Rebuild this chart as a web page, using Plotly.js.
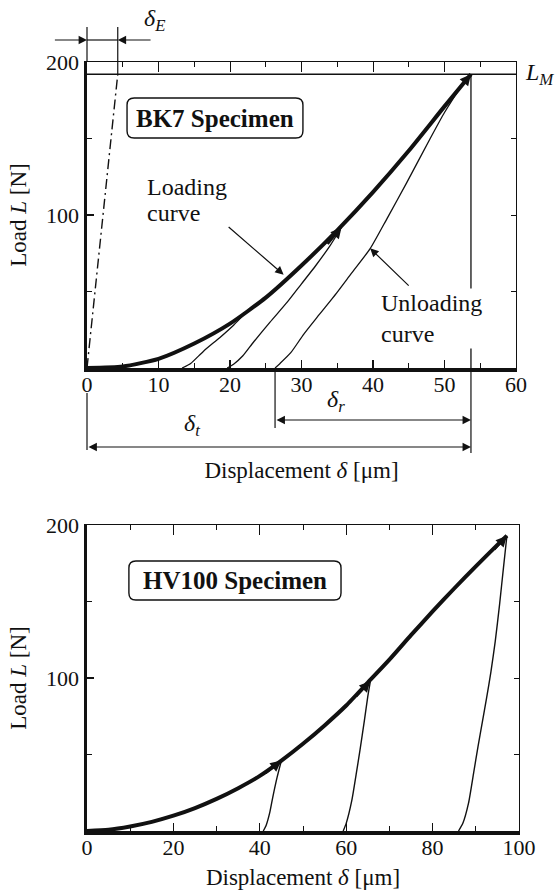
<!DOCTYPE html>
<html><head><meta charset="utf-8">
<script src="https://cdn.plot.ly/plotly-3.0.1.min.js"></script>
<style>html,body{margin:0;padding:0;background:#fff}#chart{width:556px;height:894px}</style>
</head><body><div id="chart"></div>
<script>
// ---------- BK7 specimen (upper panel) ----------
const bk7LoadX = [0, 5, 10, 15, 20, 25, 30, 35, 40, 45, 50, 53.7];
const bk7LoadY = [0, 1, 6, 16, 29, 46, 67, 90, 115, 142, 171, 192];
const bk7Unload1X = [13.3, 14.5, 16.3, 18.6, 20.5, 22.2];
const bk7Unload1Y = [0, 3, 11, 20, 28, 36];
const bk7Unload2X = [19.6, 20.5, 21.8, 23.3, 25.6, 28, 30, 32, 34, 35.6];
const bk7Unload2Y = [0, 2.5, 8, 17, 30, 43, 55, 67, 80, 92];
const bk7Unload3X = [26.3, 27, 28.5, 30.3, 32.5, 34.9, 37, 39.6, 42, 44.7, 48, 50, 52.2, 53.7];
const bk7Unload3Y = [0, 3, 10, 22, 35, 49, 62, 78, 98, 121, 150, 167, 183, 192];
const bk7ElasticX = [0, 4.3];
const bk7ElasticY = [0, 192];
const bk7MaxLoad = 192;          // L_M
const bk7TotalDisp = 53.7;       // delta_t
const bk7ResidualDisp = 26.3;    // start of delta_r

// ---------- HV100 specimen (lower panel) ----------
const hvLoadX = [0, 5, 10, 15, 20, 25, 30, 35, 40, 45, 50, 55, 60, 65, 70, 75, 80, 85, 90, 95, 97.2];
const hvLoadY = [0, 0.8, 3, 6, 10, 15, 21, 28, 36, 46, 57, 69, 82, 97, 112, 128, 143.5, 158.5, 173, 187, 193];
const hvUnload1X = [40.8, 41.5, 42.3, 43, 44, 45];
const hvUnload1Y = [0, 4, 12, 22, 35, 46];
const hvUnload2X = [59.3, 60, 61.3, 62.3, 63.2, 64.2, 65, 65.6];
const hvUnload2Y = [0, 5, 20, 37, 53, 72, 88, 98];
const hvUnload3X = [86, 87, 88.3, 89.5, 90.5, 91.5, 92.5, 93.5, 94.5, 95.5, 96.4, 97.2];
const hvUnload3Y = [0, 5, 18, 38, 55, 71, 87, 104, 124, 148, 172, 193];

const yTickVals = [100, 200];
const yTickText = ['100', '200'];

// ---------- styling ----------
const FONT = 'Liberation Serif, Times New Roman, serif';
const INK = '#111';
const H = 894, MT = 62, MB = 63, PH = H - MT - MB;
const py = p => (H - MB - p) / PH;   // page pixel row -> paper fraction
const TOP_DOMAIN = [(831 - 368) / PH, 1];
const BOT_DOMAIN = [0, (831 - 525) / PH];

function curve(x, y, w, xa, ya, dash) {
  return {x, y, xaxis: xa, yaxis: ya, type: 'scatter', mode: 'lines',
    line: {color: INK, width: w, dash: dash || 'solid', shape: 'spline', smoothing: 0.6},
    hoverinfo: 'skip', showlegend: false};
}
const dummy = (xa, ya) => ({x: [null], y: [null], xaxis: xa, yaxis: ya, type: 'scatter', mode: 'lines', hoverinfo: 'skip', showlegend: false});

const traces = [
  curve(bk7ElasticX, bk7ElasticY, 1.4, 'x', 'y', '10px,4px,2px,4px'),
  curve(bk7Unload1X, bk7Unload1Y, 1.3, 'x', 'y'),
  curve(bk7Unload2X, bk7Unload2Y, 1.3, 'x', 'y'),
  curve(bk7Unload3X, bk7Unload3Y, 1.3, 'x', 'y'),
  curve(bk7LoadX, bk7LoadY, 4, 'x', 'y'),
  curve(hvUnload1X, hvUnload1Y, 1.4, 'x3', 'y3'),
  curve(hvUnload2X, hvUnload2Y, 1.4, 'x3', 'y3'),
  curve(hvUnload3X, hvUnload3Y, 1.4, 'x3', 'y3'),
  curve(hvLoadX, hvLoadY, 4, 'x3', 'y3'),
  dummy('x2', 'y2'), dummy('x4', 'y4')
];

const tickFont = {family: FONT, size: 22, color: INK};
const titleFont = {family: FONT, size: 23, color: INK};
function baseX(range, dtick, minor, domain, anchor, standoff) {
  return {domain, range, anchor, autorange: false, showgrid: false, zeroline: false,
    showline: true, linewidth: 3.5, linecolor: INK, ticks: 'inside', ticklen: 8, tickwidth: 1.2, tickcolor: INK,
    tickmode: 'linear', tick0: 0, dtick, tickfont: tickFont, ticklabelstandoff: -6,
    minor: {ticks: 'inside', ticklen: 5, tickwidth: 1, tickcolor: INK, dtick: minor, tick0: 0, showgrid: false},
    title: {text: 'Displacement <i>δ</i> [μm]', font: titleFont, standoff}};
}
function baseY(domain, anchor) {
  return {domain, range: [0, 200], anchor, autorange: false, showgrid: false, zeroline: false,
    showline: true, linewidth: 3.5, linecolor: INK, ticks: 'inside', ticklen: 7, tickwidth: 1.2, tickcolor: INK,
    tickmode: 'array', tickvals: yTickVals, ticktext: yTickText, tickfont: tickFont,
    minor: {ticks: 'inside', ticklen: 5, tickwidth: 1, tickcolor: INK, dtick: 50, tick0: 0, showgrid: false},
    title: {text: 'Load <i>L</i> [N]', font: titleFont, standoff: 14}};
}
function mirrorX(range, dtick, minor, over, anchor) {
  return {overlaying: over, side: 'top', anchor, range, autorange: false, showgrid: false, zeroline: false,
    showline: true, linewidth: 1.2, linecolor: INK, ticks: 'inside', ticklen: 10, tickwidth: 1, tickcolor: INK,
    tickmode: 'linear', tick0: 0, dtick, showticklabels: false,
    minor: {ticks: 'inside', ticklen: 5, tickwidth: 1, tickcolor: INK, dtick: minor, tick0: 0, showgrid: false}};
}
function mirrorY(over, anchor) {
  return {overlaying: over, side: 'right', anchor, range: [0, 200], autorange: false, showgrid: false, zeroline: false,
    showline: true, linewidth: 1.2, linecolor: INK, ticks: 'inside', ticklen: 5, tickwidth: 1, tickcolor: INK,
    tickmode: 'linear', tick0: 0, dtick: 50, showticklabels: false};
}

function roundBox(x0, x1, y0, y1, rx, ry, xref, yref) {
  const p = `M${x0 + rx},${y0} L${x1 - rx},${y0} Q${x1},${y0} ${x1},${y0 + ry} L${x1},${y1 - ry} Q${x1},${y1} ${x1 - rx},${y1} ` +
            `L${x0 + rx},${y1} Q${x0},${y1} ${x0},${y1 - ry} L${x0},${y0 + ry} Q${x0},${y0} ${x0 + rx},${y0} Z`;
  return {type: 'path', path: p, xref, yref, line: {color: INK, width: 1.4}, fillcolor: 'rgba(0,0,0,0)'};
}
const seg = (o) => Object.assign({type: 'line', line: {color: INK, width: 1.2}}, o);

const shapes = [
  seg({xref: 'x', yref: 'y', x0: 0, x1: 60, y0: bk7MaxLoad, y1: bk7MaxLoad, line: {color: INK, width: 1.3}}),
  seg({xref: 'x', yref: 'y', x0: bk7TotalDisp, x1: bk7TotalDisp, y0: 0, y1: bk7MaxLoad, line: {color: INK, width: 1.3}}),
  roundBox(5.6, 30.2, 150.3, 176.5, 1.0, 4.6, 'x', 'y'),
  roundBox(9.7, 58.8, 151, 176.5, 1.6, 4.6, 'x3', 'y3'),
  // delta_E extension lines above the upper panel
  seg({xref: 'x', yref: 'paper', x0: 0, x1: bk7ElasticX[1], y0: py(40), y1: py(40)}),
  seg({xref: 'paper', yref: 'paper', x0: 0, x1: 0, y0: py(27), y1: TOP_DOMAIN[1]}),
  seg({xref: 'x', yref: 'paper', x0: bk7ElasticX[1], x1: bk7ElasticX[1], y0: py(27), y1: TOP_DOMAIN[1]}),
  seg({xref: 'x', yref: 'y', x0: bk7ElasticX[1], x1: bk7ElasticX[1], y0: bk7MaxLoad, y1: 200}),
  // delta_t / delta_r extension lines below the upper panel
  seg({xref: 'paper', yref: 'paper', x0: 0, x1: 0, y0: py(393), y1: py(450)}),
  seg({xref: 'x', yref: 'paper', x0: bk7ResidualDisp, x1: bk7ResidualDisp, y0: TOP_DOMAIN[0], y1: py(428)}),
  seg({xref: 'x', yref: 'paper', x0: bk7TotalDisp, x1: bk7TotalDisp, y0: TOP_DOMAIN[0], y1: py(453)})
];

const txt = (o) => Object.assign({showarrow: false, xanchor: 'center', yanchor: 'middle',
  font: {family: FONT, size: 24, color: INK}}, o);
const arrow = (o) => Object.assign({text: '', showarrow: true, arrowhead: 2, arrowsize: 1.4, arrowwidth: 1.2,
  arrowcolor: INK, standoff: 0, startstandoff: 0}, o);

const annotations = [
  // delta_E dimension above the upper panel
  arrow({xref: 'x', yref: 'paper', x: 0, y: py(40), axref: 'x', ax: -4.7, ayref: 'pixel', ay: 0}),
  arrow({xref: 'x', yref: 'paper', x: bk7ElasticX[1], y: py(40), axref: 'x', ax: 9.1, ayref: 'pixel', ay: 0}),
  txt({xref: 'x', yref: 'paper', x: bk7ElasticX[1], xshift: 37, y: py(20), text: '<i>δ</i><sub><i>E</i></sub>'}),
  txt({xref: 'paper', yref: 'y', x: 1.0486, y: bk7MaxLoad, text: '<i>L</i><sub><i>M</i></sub>'}),
  // delta_t / delta_r dimensions below the upper panel
  arrow({xref: 'x', yref: 'paper', x: bk7TotalDisp, y: py(420), axref: 'x', ax: bk7ResidualDisp, ayref: 'pixel', ay: 0, arrowside: 'end+start'}),
  arrow({xref: 'x', yref: 'paper', x: bk7TotalDisp, y: py(447), axref: 'x', ax: 0, ayref: 'pixel', ay: 0, arrowside: 'end+start'}),
  txt({xref: 'x', yref: 'paper', x: 34.8, y: py(401), text: '<i>δ</i><sub><i>r</i></sub>'}),
  txt({xref: 'x', yref: 'paper', x: 14.7, y: py(425), text: '<i>δ</i><sub><i>t</i></sub>'}),
  // labels in upper panel
  txt({xref: 'x', yref: 'y', x: 17.9, y: 163.4, text: '<b>BK7 Specimen</b>', font: {family: FONT, size: 25, color: INK}}),
  txt({xref: 'x', yref: 'y', x: 8.1, y: 118.3, xanchor: 'left', text: 'Loading'}),
  txt({xref: 'x', yref: 'y', x: 8.1, y: 101.3, xanchor: 'left', text: 'curve'}),
  arrow({xref: 'x', yref: 'y', x: 27.5, y: 61, axref: 'x', ax: 19.6, ayref: 'y', ay: 93}),
  txt({xref: 'x', yref: 'y', x: 40.8, y: 32.4, xanchor: 'left', align: 'left', bgcolor: '#fff', text: 'Unloading<br>curve'}),
  arrow({xref: 'x', yref: 'y', x: 39.6, y: 78.2, axref: 'x', ax: 45.2, ayref: 'y', ay: 52.9}),
  // arrowheads on the loading curves
  arrow({xref: 'x', yref: 'y', x: bk7LoadX[bk7LoadX.length - 1], y: bk7LoadY[bk7LoadY.length - 1], axref: 'x', ax: 51.2, ayref: 'y', ay: 178, arrowwidth: 2.2, arrowsize: 1}),
  arrow({xref: 'x', yref: 'y', x: bk7Unload2X[bk7Unload2X.length - 1], y: bk7Unload2Y[bk7Unload2Y.length - 1], axref: 'x', ax: 33.5, ayref: 'y', ay: 80, arrowwidth: 2.2, arrowsize: 1}),
  // lower panel
  txt({xref: 'x3', yref: 'y3', x: 34.25, y: 163.7, text: '<b>HV100 Specimen</b>', font: {family: FONT, size: 25, color: INK}}),
  arrow({xref: 'x3', yref: 'y3', x: hvLoadX[hvLoadX.length - 1], y: hvLoadY[hvLoadY.length - 1], axref: 'x3', ax: 94, ayref: 'y3', ay: 183, arrowwidth: 2.2, arrowsize: 1}),
  arrow({xref: 'x3', yref: 'y3', x: hvUnload2X[hvUnload2X.length - 1], y: hvUnload2Y[hvUnload2Y.length - 1], axref: 'x3', ax: 62, ayref: 'y3', ay: 87, arrowwidth: 2.2, arrowsize: 1}),
  arrow({xref: 'x3', yref: 'y3', x: hvUnload1X[hvUnload1X.length - 1], y: hvUnload1Y[hvUnload1Y.length - 1], axref: 'x3', ax: 41, ayref: 'y3', ay: 37, arrowwidth: 2.2, arrowsize: 1})
];

const layout = {
  width: 556, height: H, margin: {l: 87, r: 37, t: MT, b: MB},
  paper_bgcolor: '#fff', plot_bgcolor: '#fff', showlegend: false,
  font: {family: FONT, color: INK},
  xaxis: baseX([0, 60], 10, 5, [0, 429 / 432], 'y', 67),
  yaxis: baseY(TOP_DOMAIN, 'x'),
  xaxis2: mirrorX([0, 60], 10, 5, 'x', 'y2'),
  yaxis2: mirrorY('y', 'x2'),
  xaxis3: baseX([0, 100], 20, 10, [0, 1], 'y3', 11),
  yaxis3: baseY(BOT_DOMAIN, 'x3'),
  xaxis4: mirrorX([0, 100], 20, 10, 'x3', 'y4'),
  yaxis4: mirrorY('y3', 'x4'),
  shapes, annotations
};

Plotly.newPlot('chart', traces, layout, {displayModeBar: false, staticPlot: true});
</script>
</body></html>
